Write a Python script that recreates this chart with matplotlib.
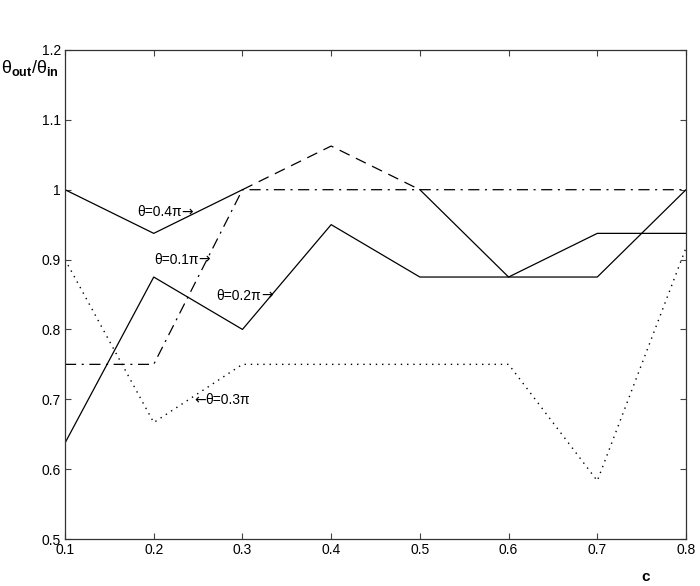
import numpy as np
import matplotlib
matplotlib.use("Agg")
import matplotlib.pyplot as plt

plt.rcParams['font.family'] = ['Liberation Sans', 'DejaVu Sans']
plt.rcParams['mathtext.fontset'] = 'custom'
plt.rcParams['mathtext.rm'] = 'Liberation Sans'
plt.rcParams['mathtext.it'] = 'Liberation Sans'
plt.rcParams['mathtext.bf'] = 'Liberation Sans:bold'
plt.rcParams['lines.scale_dashes'] = False

c = [0.1, 0.2, 0.3, 0.4, 0.5, 0.6, 0.7, 0.8]
theta_01pi = [0.75, 0.75, 1.0, 1.0, 1.0, 1.0, 1.0, 1.0]
theta_02pi = [0.6375, 0.875, 0.8, 0.95, 0.875, 0.875, 0.9375, 0.9375]
theta_03pi = [0.9, 0.6667, 0.75, 0.75, 0.75, 0.75, 0.5833, 0.9167]
theta_04pi = [1.0, 0.9375, 1.0, 1.0625, 1.0, 0.875, 0.875, 1.0]

xticks = [0.1, 0.2, 0.3, 0.4, 0.5, 0.6, 0.7, 0.8]
yticks = [0.5, 0.6, 0.7, 0.8, 0.9, 1.0, 1.1, 1.2]

fig = plt.figure(figsize=(7.0, 5.86), dpi=100)
ax = fig.add_axes([0.0929, 0.0802, 0.8871, 0.8345])

lw = 0.9
col = 'black'
x = np.array(c)
t4 = np.array(theta_04pi)
# theta = 0.4 pi : solid except segment 0.3-0.5 drawn dashed
solid4 = t4.copy(); solid4[3] = np.nan
ax.plot(x, solid4, color=col, lw=lw, linestyle='-')
dash4 = np.full_like(t4, np.nan); dash4[2:5] = t4[2:5]
ax.plot(x, dash4, color=col, lw=lw, linestyle=(0, (8, 5)))
ax.plot(x, theta_02pi, color=col, lw=lw, linestyle='-')
ax.plot(x, theta_01pi, color=col, lw=lw, linestyle=(0, (8, 4, 1.5, 4)))
ax.plot(x, theta_03pi, color=col, lw=1.0, linestyle=(0, (1, 3.5)))

fs = 10
arrow_font = ['DejaVu Sans']

def label_right(xv, yv, s):
    t = ax.text(xv, yv, s, fontsize=fs, va='center', ha='left')
    ax.annotate('→', xy=(1.0, 0.5), xycoords=t, fontsize=fs, va='center', ha='left',
                family=arrow_font)

def label_left(xv, yv, s):
    a = ax.text(xv, yv, '←', fontsize=fs, va='center', ha='left', family=arrow_font)
    ax.annotate(s, xy=(1.0, 0.5), xycoords=a, fontsize=fs, va='center', ha='left')

label_right(0.1812, 0.968, 'θ=0.4π')
label_right(0.2003, 0.900, 'θ=0.1π')
label_right(0.271, 0.848, 'θ=0.2π')
label_left(0.2454, 0.699, 'θ=0.3π')

ax.set_xlim(0.1, 0.8)
ax.set_ylim(0.5, 1.2)
ax.set_xticks(xticks)
ax.set_yticks(yticks)
ax.set_xticklabels([f'{v:g}' for v in xticks], fontsize=fs)
ax.set_yticklabels([f'{v:g}' for v in yticks], fontsize=fs)
ax.tick_params(direction='in', length=4.3, width=0.8, top=True, right=True,
               color='#444444', pad=3)
for s in ax.spines.values():
    s.set_linewidth(0.9)
    s.set_color('#333333')

fig.text(0.002, 0.884, r'$\mathrm{θ}_{\mathbf{out}}/\mathrm{θ}_{\mathbf{in}}$', fontsize=13,
         ha='left', va='center')
fig.text(646/700, 1 - 577/586, 'c', fontsize=11, fontweight='bold', ha='center', va='center')

fig.savefig('out.png', dpi=100)
